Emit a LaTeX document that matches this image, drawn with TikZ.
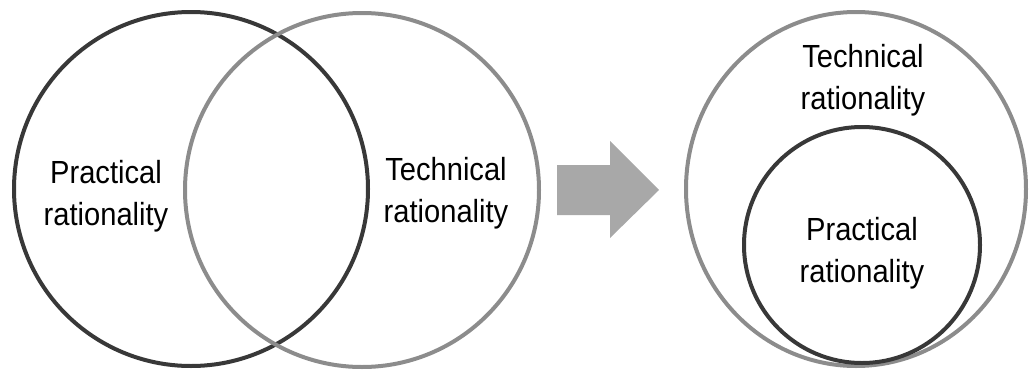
\documentclass[tikz,border=0pt]{standalone}
\usepackage{fontspec}
\newfontfamily\labelfont{Liberation Sans}[FakeStretch=0.91]
\usetikzlibrary{calc}
\definecolor{ringdark}{HTML}{383838}
\definecolor{ringgray}{HTML}{8C8C8C}
\definecolor{arrowgray}{HTML}{A8A8A8}
\tikzset{
  ring/.style = {draw, circle, line width = 4pt, inner sep = 0pt},
  label/.style = {align = center, inner sep = 0pt,
                  font = \labelfont\fontsize{32}{42}\selectfont}
}
\begin{document}
\begin{tikzpicture}[x = 1pt, y = -1pt]
      \useasboundingbox (0,0) rectangle (1029,370);
      % left: overlapping rings
      \node [ring, ringdark, minimum size = 354pt] (pracL) at (191,189) {};
      \node [ring, ringgray, minimum size = 354pt] (techL) at (362,190) {};
      \node [label] (pracLtxt) at (106,196) {Practical\\rationality};
      \node [label] (techLtxt) at (446,193) {Technical\\rationality};
      % the arrow
      \fill [arrowgray]
              (557,165) -- (610,165) -- (610,141) --
              (659,190) -- (610,238) -- (610,215) --
              (557,215) -- cycle;
      % right: nested rings
      \draw [ringgray, line width = 4pt] (856,189) ellipse [x radius = 170pt, y radius = 177pt];
      \node [ring, ringdark, minimum size = 236pt] (pracR) at (862,245) {};
      \node [label] (techRtxt) at (863,80) {Technical\\rationality};
      \node [label] (pracRtxt) at (862,253) {Practical\\rationality};
    \end{tikzpicture}
\end{document}
